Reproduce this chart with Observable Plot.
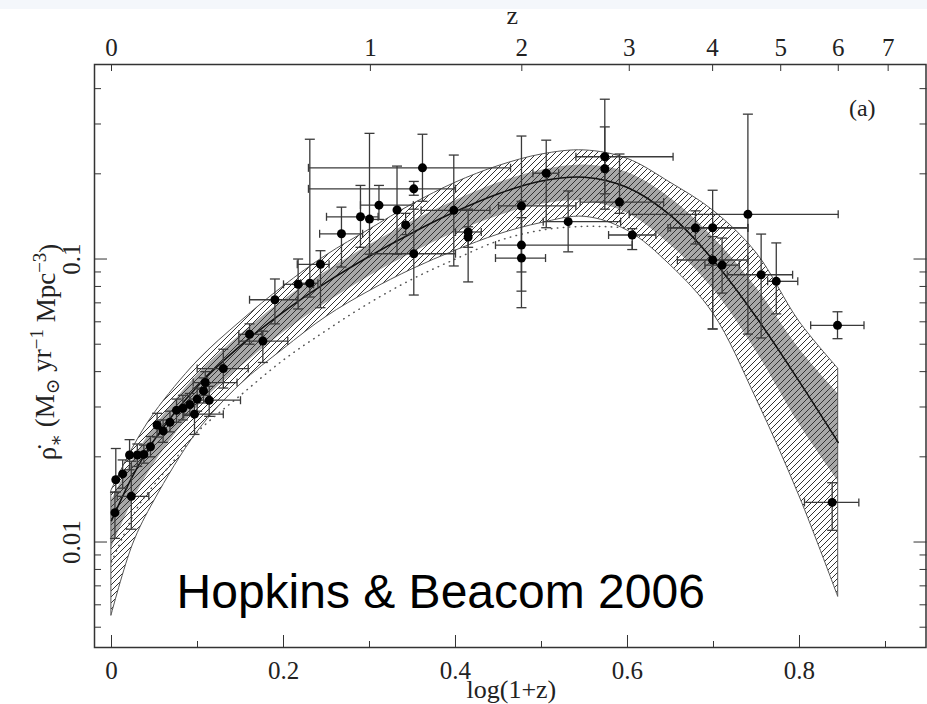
<!DOCTYPE html>
<html><head><meta charset="utf-8">
<script src="https://cdn.jsdelivr.net/npm/d3@7"></script>
<script src="https://cdn.jsdelivr.net/npm/@observablehq/plot@0.6"></script>
<style>
html,body{margin:0;padding:0;background:#fff;}
#strip{position:absolute;left:0;top:0;width:927px;height:9px;background:#f4f7fb;}
#chart{position:absolute;left:0;top:0;}
</style></head><body>
<div id="strip"></div><div id="chart"></div>
<script>
// ---- fit curve & uncertainty bands, x = log(1+z)
const bandX   = [0, 0.025, 0.05, 0.1, 0.15, 0.2, 0.25, 0.3, 0.35, 0.4, 0.45, 0.5, 0.55, 0.6, 0.65, 0.7, 0.75, 0.8, 0.845];
const lineY   = [0.0119, 0.0172, 0.0230, 0.0355, 0.0494, 0.0651, 0.0827, 0.1023, 0.1239, 0.1471, 0.1701, 0.1886, 0.1944, 0.1788, 0.1425, 0.0988, 0.0621, 0.0368, 0.0225];
const hatchHi = [0.0152, 0.0215, 0.0285, 0.0435, 0.0600, 0.0800, 0.1030, 0.1270, 0.1560, 0.1860, 0.2130, 0.2340, 0.2420, 0.2260, 0.1860, 0.1480, 0.1050, 0.0600, 0.0410];
const hatchLo = [0.0055, 0.0098, 0.0140, 0.0245, 0.0360, 0.0480, 0.0625, 0.0770, 0.0920, 0.1070, 0.1220, 0.1340, 0.1410, 0.1260, 0.0950, 0.0640, 0.0320, 0.0145, 0.0064];
const grayHi  = [0.0140, 0.0195, 0.0255, 0.0390, 0.0540, 0.0715, 0.0905, 0.1120, 0.1360, 0.1610, 0.1860, 0.2060, 0.2150, 0.2020, 0.1640, 0.1190, 0.0790, 0.0480, 0.0334];
const grayLo  = [0.0095, 0.0140, 0.0190, 0.0300, 0.0415, 0.0550, 0.0700, 0.0870, 0.1050, 0.1240, 0.1420, 0.1560, 0.1600, 0.1450, 0.1120, 0.0780, 0.0470, 0.0260, 0.0164];
// dotted curve
const dotX = [0, 0.03, 0.05, 0.075, 0.1, 0.15, 0.2, 0.25, 0.3, 0.35, 0.4, 0.45, 0.5, 0.55, 0.6];
const dotY = [0.0085, 0.0132, 0.0160, 0.0198, 0.0245, 0.0330, 0.0440, 0.0560, 0.0700, 0.0850, 0.1000, 0.1160, 0.1265, 0.1305, 0.1290];
// ---- data points with error bars (null = no bar)
const ptX   = [0.004, 0.005, 0.013, 0.023, 0.021, 0.030, 0.0376, 0.0453, 0.053, 0.060, 0.068, 0.0756, 0.083, 0.091, 0.0965, 0.0996, 0.107, 0.109, 0.1136, 0.130, 0.1605, 0.176, 0.190, 0.217, 0.2306, 0.243, 0.2674, 0.2895, 0.300, 0.311, 0.332, 0.342, 0.3515, 0.3515, 0.3616, 0.398, 0.4147, 0.4147, 0.4767, 0.4767, 0.4767, 0.5055, 0.531, 0.5736, 0.5736, 0.5907, 0.6055, 0.679, 0.699, 0.740, 0.699, 0.710, 0.7554, 0.773, 0.8442, 0.838];
const ptY   = [0.0127, 0.0166, 0.0174, 0.0145, 0.0203, 0.0203, 0.0204, 0.0217, 0.0259, 0.0247, 0.0265, 0.0292, 0.0297, 0.0306, 0.0283, 0.0320, 0.0342, 0.0366, 0.0317, 0.0410, 0.0542, 0.0513, 0.0718, 0.0814, 0.0821, 0.0958, 0.1228, 0.1410, 0.1384, 0.1550, 0.1490, 0.1320, 0.1770, 0.1044, 0.2100, 0.1486, 0.1246, 0.1196, 0.1540, 0.1120, 0.1008, 0.2010, 0.1355, 0.2298, 0.2085, 0.1589, 0.1216, 0.1287, 0.1290, 0.1438, 0.0992, 0.0952, 0.0880, 0.0834, 0.0583, 0.0138];
const ptYlo = [0.0103, 0.0150, 0.0155, 0.0111, 0.0180, 0.0185, 0.0190, 0.0200, 0.0235, 0.0225, 0.0245, 0.0265, 0.0270, 0.0280, 0.0240, 0.0290, 0.0310, 0.0330, 0.0278, 0.0350, 0.0500, 0.0431, 0.0590, 0.0666, 0.0734, 0.0673, 0.0937, 0.1100, 0.1040, 0.1380, 0.1040, 0.1220, 0.1680, 0.0746, 0.1600, 0.0945, 0.0830, 0.1100, 0.0900, 0.0770, 0.0673, 0.1290, 0.1060, 0.1700, 0.1500, 0.1450, 0.1080, 0.1130, 0.0566, 0.0543, 0.0566, 0.0758, 0.0526, 0.0640, 0.0523, 0.0110];
const ptYhi = [0.0150, 0.0214, 0.0195, 0.0193, 0.0230, 0.0222, 0.0220, 0.0236, 0.0285, 0.0270, 0.0290, 0.0320, 0.0330, 0.0335, 0.0320, 0.0350, 0.0380, 0.0400, 0.0355, 0.0480, 0.0590, 0.0556, 0.0850, 0.1000, 0.2650, 0.1070, 0.1525, 0.1820, 0.2780, 0.1820, 0.2130, 0.1450, 0.1880, 0.1500, 0.2760, 0.2330, 0.1500, 0.1300, 0.2720, 0.1600, 0.1400, 0.2630, 0.1740, 0.3670, 0.2930, 0.2350, 0.1280, 0.1480, 0.1750, 0.3250, 0.1200, 0.1186, 0.1225, 0.1140, 0.0651, 0.0162];
const ptXlo = [null, null, null, 0.0066, null, null, null, null, null, null, null, null, null, null, 0.084, null, null, 0.095, 0.100, 0.0996, 0.148, 0.148, 0.1605, 0.200, 0.220, 0.216, 0.242, 0.250, null, 0.2895, null, null, 0.229, 0.300, 0.229, 0.360, 0.400, null, 0.450, 0.4465, 0.4465, 0.490, 0.502, 0.540, null, 0.545, 0.578, 0.647, 0.650, 0.602, 0.658, 0.690, 0.716, 0.763, 0.813, 0.8058];
const ptXhi = [null, null, null, 0.0434, null, null, null, null, null, null, null, null, null, null, 0.130, null, null, 0.146, 0.150, 0.159, 0.175, 0.205, 0.216, 0.235, 0.240, 0.253, 0.292, 0.310, null, 0.351, null, null, 0.400, 0.400, 0.464, 0.440, 0.430, null, 0.540, 0.6055, 0.5047, 0.520, 0.592, 0.653, null, 0.642, 0.633, 0.740, 0.740, 0.845, 0.740, 0.730, 0.792, 0.798, 0.875, 0.869];
// ---- axes
const xMajor = [0, 0.2, 0.4, 0.6, 0.8];
const xMinor = [0.1, 0.3, 0.5, 0.7, 0.9];
const yMajor = [0.01, 0.1];
const yMajorLabels = ["0.01", "0.1"];
const yMinor = [0.005, 0.006, 0.007, 0.008, 0.009, 0.02, 0.03, 0.04, 0.05, 0.06, 0.07, 0.08, 0.09, 0.2, 0.3, 0.4];
const zTicks = [0, 1, 2, 3, 4, 5, 6, 7];

const serif = "'Liberation Serif','DejaVu Serif',serif";
const band = bandX.map((x, i) => ({x, line: lineY[i], hh: hatchHi[i], hl: hatchLo[i], gh: grayHi[i], gl: grayLo[i]}));
const dotted = dotX.map((x, i) => ({x, y: dotY[i]}));
const pts = ptX.map((x, i) => ({x, y: ptY[i], ylo: ptYlo[i], yhi: ptYhi[i], xlo: ptXlo[i], xhi: ptXhi[i]}));
const vbars = pts.filter(d => d.ylo != null);
const hbars = pts.filter(d => d.xlo != null);
const capsY = vbars.flatMap(d => [{x: d.x, y: d.ylo}, {x: d.x, y: d.yhi}]);
const capsX = hbars.flatMap(d => [{x: d.xlo, y: d.y}, {x: d.xhi, y: d.y}]);
const capH = {draw(ctx, size) { const r = Math.sqrt(size / Math.PI); ctx.moveTo(-r, 0); ctx.lineTo(r, 0); }};
const capV = {draw(ctx, size) { const r = Math.sqrt(size / Math.PI); ctx.moveTo(0, -r); ctx.lineTo(0, r); }};
const barColor = "#3a3a3a";
const tickColor = "#333";
const YLABEL = "YLABEL_PLACEHOLDER";
const M = {lineAnchor: "middle", textAnchor: "middle"};
const YFS = 27;

const svg = Plot.plot({
  width: 927, height: 704,
  marginLeft: 94, marginRight: 1.5, marginTop: 64, marginBottom: 57,
  style: {fontFamily: serif, background: "transparent", color: "#222", overflow: "visible"},
  x: {domain: [-0.01977, 0.9471], axis: null},
  y: {type: "log", domain: [0.004239, 0.4868], axis: null},
  marks: [
    Plot.areaY(band, {x: "x", y1: "gl", y2: "gh", fill: "#a8a8a8", curve: "catmull-rom"}),
    Plot.areaY(band, {x: "x", y1: "hl", y2: "hh", fill: "url(#hatch)", stroke: "#555", strokeWidth: 1, curve: "catmull-rom"}),
    Plot.line(dotted, {x: "x", y: "y", stroke: "#555", strokeWidth: 1.5, strokeDasharray: "0.5,5.5", strokeLinecap: "round", curve: "catmull-rom"}),
    Plot.line(band, {x: "x", y: "line", stroke: "#111", strokeWidth: 1.6, curve: "catmull-rom"}),
    Plot.link(vbars, {x1: "x", x2: "x", y1: "ylo", y2: "yhi", stroke: barColor, strokeWidth: 1.3}),
    Plot.link(hbars, {x1: "xlo", x2: "xhi", y1: "y", y2: "y", stroke: barColor, strokeWidth: 1.3}),
    Plot.dot(capsY, {x: "x", y: "y", symbol: capH, r: 5, stroke: barColor, strokeWidth: 1.3, fill: "none"}),
    Plot.dot(capsX, {x: "x", y: "y", symbol: capV, r: 4, stroke: barColor, strokeWidth: 1.3, fill: "none"}),
    Plot.dot(pts, {x: "x", y: "y", r: 4.5, fill: "#000", stroke: "none"}),
    Plot.frame({stroke: "#333", strokeWidth: 1.5}),
    // inward ticks
    Plot.axisX({anchor: "bottom", ticks: xMajor, tickSize: 12, dy: -12, fill: "none", stroke: tickColor, label: null}),
    Plot.axisX({anchor: "bottom", ticks: xMinor, tickSize: 6, dy: -6, fill: "none", stroke: tickColor, label: null}),
    Plot.axisX({anchor: "top", ticks: zTicks.map(z => Math.log10(1 + z)), tickSize: 6, dy: 6, fill: "none", stroke: tickColor, label: null}),
    Plot.axisY({anchor: "left", ticks: yMajor, tickSize: 13, dx: 13, fill: "none", stroke: tickColor, label: null}),
    Plot.axisY({anchor: "left", ticks: yMinor, tickSize: 7, dx: 7, fill: "none", stroke: tickColor, label: null}),
    Plot.axisY({anchor: "right", ticks: yMajor, tickSize: 13, dx: -13, fill: "none", stroke: tickColor, label: null}),
    Plot.axisY({anchor: "right", ticks: yMinor, tickSize: 7, dx: -7, fill: "none", stroke: tickColor, label: null}),
    // tick labels
    Plot.text(xMajor, {x: d => d, text: d => String(d), frameAnchor: "bottom", dy: 23, fontSize: 25, fill: "#222", ...M}),
    Plot.text(zTicks, {x: z => Math.log10(1 + z), text: z => String(z), frameAnchor: "top", dy: -17, fontSize: 25, fill: "#222", ...M}),
    Plot.text(yMajor, {y: d => d, text: (d, i) => yMajorLabels[i], frameAnchor: "left", dx: -23, rotate: -90, fontSize: 25, fill: "#222", ...M}),
    // axis titles and annotations
    Plot.text(["log(1+z)"], {x: 0.465, frameAnchor: "bottom", dy: 42, fontSize: 26, fill: "#222", ...M}),
    Plot.text(["z"], {x: 0.466, frameAnchor: "top", dy: -49, fontSize: 26, fill: "#222", ...M}),
    Plot.text([YLABEL], {frameAnchor: "left", dx: -47, dy: -4, rotate: -90, fontSize: YFS, fill: "#222", ...M}),
    Plot.text(["(a)"], {x: 0.873, frameAnchor: "top", dy: 44, fontSize: 24, fill: "#222", ...M}),
    Plot.text(["Hopkins & Beacom 2006"], {x: 0.0756, frameAnchor: "bottom", dy: -55, lineAnchor: "middle", textAnchor: "start", fontSize: 48, fontFamily: "'Liberation Sans',Arial,sans-serif", fill: "#000"})
  ]
});

// hatch pattern
const ns = "http://www.w3.org/2000/svg";
const defs = document.createElementNS(ns, "defs");
defs.innerHTML = '<pattern id="hatch" patternUnits="userSpaceOnUse" width="6" height="6"><path d="M-1,1 L1,-1 M0,6 L6,0 M5,7 L7,5" stroke="#333" stroke-width="1"/></pattern>';
svg.insertBefore(defs, svg.firstChild);

// y-axis title with sub/superscripts
svg.querySelectorAll("text").forEach(t => {
  if (t.textContent === YLABEL) {
    while (t.firstChild) t.removeChild(t.firstChild);
    const parts = [
      ["\u03C1\u0307", 0, 1], ["\u2217", 0.32, 0.7], [" (M", -0.32, 1], ["\u2299", 0.3, 0.7], [" yr", -0.3, 1],
      ["\u22121", -0.45, 0.7], [" Mpc", 0.45, 1], ["\u22123", -0.45, 0.7], [")", 0.45, 1]
    ];
    for (const [s, dy, fs] of parts) {
      const ts = document.createElementNS(ns, "tspan");
      ts.textContent = s;
      if (dy) ts.setAttribute("dy", dy + "em");
      if (fs !== 1) ts.setAttribute("font-size", (YFS * fs) + "px");
      t.appendChild(ts);
    }
  }
});
document.getElementById("chart").appendChild(svg);
</script></body></html>
